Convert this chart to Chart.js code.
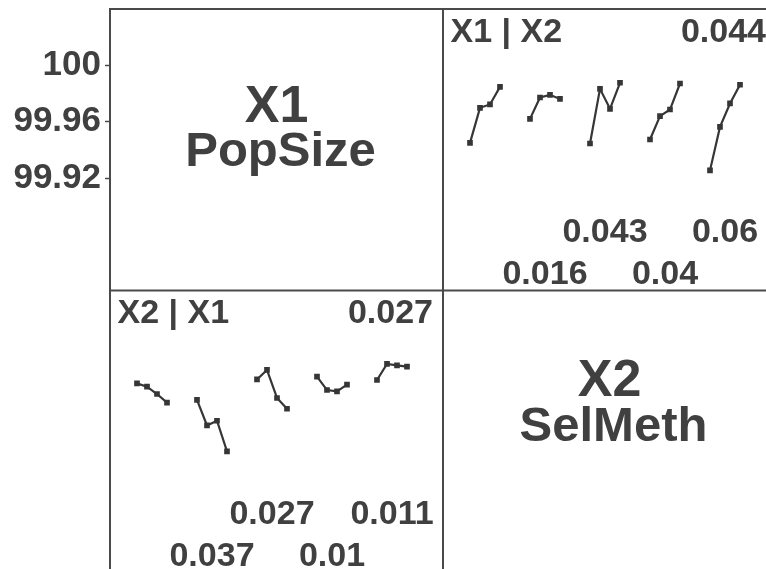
<!DOCTYPE html>
<html>
<head>
<meta charset="utf-8">
<script src="https://cdn.jsdelivr.net/npm/chart.js@4.4.0/dist/chart.umd.min.js"></script>
<style>
  html, body { margin: 0; padding: 0; background: #fff; overflow: hidden; }
  #wrap { width: 766px; height: 569px; overflow: hidden; }
</style>
</head>
<body>
<div id="wrap"><canvas id="myChart" width="780" height="576"></canvas></div>
<script>
// upper right panel: X1 | X2, one line per X2 level, 4 X1 levels each
var x1GivenX2 = [
    [99.9450, 99.9698, 99.9722, 99.9846],
    [99.9620, 99.9771, 99.9790, 99.9761],
    [99.9446, 99.9832, 99.9691, 99.9875],
    [99.9474, 99.9639, 99.9686, 99.9870],
    [99.9256, 99.9563, 99.9729, 99.9861]
];
var x1GivenX2Labels = ['', '0.016', '0.043', '0.04', '0.06'];
var x1GivenX2Corner = '0.044';

// lower left panel: X2 | X1
var x2GivenX1 = [
    [99.9740, 99.9717, 99.9665, 99.9604],
    [99.9623, 99.9443, 99.9476, 99.9259],
    [99.9768, 99.9835, 99.9637, 99.9561],
    [99.9788, 99.9693, 99.9684, 99.9731],
    [99.9764, 99.9878, 99.9867, 99.9858]
];
var x2GivenX1Labels = ['', '0.037', '0.027', '0.01', '0.011'];
var x2GivenX1Corner = '0.027';

var yTicks = [100, 99.96, 99.92];
var yTickLabels = ['100', '99.96', '99.92'];
var factorNames = [['X1', 'PopSize'], ['X2', 'SelMeth']];

var inkColor = '#404040';
var lineColor = '#363636';
var fontFamily = "'Liberation Sans', Arial, sans-serif";

// each group takes 6 slots on x, 4 points + gap
function groupDatasets(groups, xId, yId) {
    return groups.map(function (vals, g) {
        return {
            data: vals.map(function (v, j) { return { x: g * 6 + j, y: v }; }),
            xAxisID: xId,
            yAxisID: yId,
            borderColor: lineColor,
            borderWidth: 2.2,
            pointStyle: 'rect',
            pointRadius: 4,
            pointBorderWidth: 0,
            pointBackgroundColor: lineColor,
            tension: 0
        };
    });
}

var datasets = groupDatasets(x1GivenX2, 'xRight', 'yTop')
    .concat(groupDatasets(x2GivenX1, 'xLeft', 'yBottom'));

// frame, panel titles and group labels
var panelText = {
    id: 'panelText',
    afterDraw: function (chart) {
        var ctx = chart.ctx;
        var xl = chart.scales.xLeft, xr = chart.scales.xRight;
        var yt = chart.scales.yTop, yb = chart.scales.yBottom;
        var area = chart.chartArea;

        ctx.save();
        ctx.strokeStyle = '#4a4a4a';
        ctx.lineWidth = 2;
        ctx.strokeRect(area.left, area.top, area.right - area.left, area.bottom - area.top);
        ctx.beginPath();
        ctx.moveTo(xl.right, area.top);
        ctx.lineTo(xl.right, area.bottom);
        ctx.moveTo(area.left, yt.bottom);
        ctx.lineTo(area.right, yt.bottom);
        ctx.stroke();

        ctx.fillStyle = inkColor;
        ctx.textBaseline = 'alphabetic';

        // diagonal: factor names
        var diag = [[xl, yt, 113, 157], [xr, yb, 105, 150]];
        diag.forEach(function (d, i) {
            var cx = (d[0].left + d[0].right) / 2;
            ctx.textAlign = 'center';
            ctx.font = 'bold 52px ' + fontFamily;
            ctx.fillText(factorNames[i][0], cx, d[1].top + d[2]);
            ctx.font = 'bold 49px ' + fontFamily;
            ctx.fillText(factorNames[i][1], cx + 4, d[1].top + d[3]);
        });

        // off-diagonal panels
        var panels = [
            [xr, yt, 'X1 | X2', x1GivenX2Corner, x1GivenX2Labels],
            [xl, yb, 'X2 | X1', x2GivenX1Corner, x2GivenX1Labels]
        ];
        ctx.font = 'bold 34px ' + fontFamily;
        panels.forEach(function (p) {
            var xs = p[0], ys = p[1];
            ctx.textAlign = 'left';
            ctx.fillText(p[2], xs.left + 7.5, ys.top + 32.5);
            ctx.textAlign = 'right';
            ctx.fillText(p[3], xs.right - 10, ys.top + 32.5);
            ctx.textAlign = 'center';
            p[4].forEach(function (lab, g) {
                if (!lab) return;
                var px = xs.getPixelForValue(g * 6 + 1.5);
                var off = g % 2 === 0 ? 233 : 275;
                ctx.fillText(lab, px, ys.top + off);
            });
        });
        ctx.restore();
    }
};

var yMin = 99.8407, yMax = 100.03965;
var xMin = -2.7, xMax = 30.6;

var ctx = document.getElementById('myChart').getContext('2d');
var myChart = new Chart(ctx, {
    type: 'line',
    data: { datasets: datasets },
    options: {
        responsive: false,
        animation: false,
        layout: { padding: { top: 9, right: 4, bottom: 0, left: 0 } },
        plugins: {
            legend: { display: false },
            tooltip: { enabled: false }
        },
        scales: {
            xLeft: {
                type: 'linear', axis: 'x', position: 'bottom',
                stack: 'cols', stackWeight: 1,
                min: xMin, max: xMax, display: false
            },
            xRight: {
                type: 'linear', axis: 'x', position: 'bottom',
                stack: 'cols', stackWeight: 1,
                min: xMin, max: xMax, display: false
            },
            yBottom: {
                type: 'linear', axis: 'y', position: 'left',
                stack: 'rows', stackWeight: 1,
                min: yMin, max: yMax, display: false
            },
            yTop: {
                type: 'linear', axis: 'y', position: 'left',
                stack: 'rows', stackWeight: 1,
                min: yMin, max: yMax,
                afterBuildTicks: function (scale) {
                    scale.ticks = yTicks.map(function (v) { return { value: v }; });
                },
                afterFit: function (scale) {
                    scale.width = 110;
                    scale.paddingTop = 0;
                    scale.paddingBottom = 0;
                },
                border: { display: false },
                grid: {
                    drawOnChartArea: false,
                    drawTicks: true,
                    tickLength: 5,
                    tickColor: '#4a4a4a',
                    tickWidth: 1.5
                },
                ticks: {
                    padding: 4,
                    color: inkColor,
                    font: { family: fontFamily, size: 35, weight: 'bold' },
                    callback: function (v, i) { return yTickLabels[i]; }
                }
            }
        }
    },
    plugins: [panelText]
});
</script>
</body>
</html>
